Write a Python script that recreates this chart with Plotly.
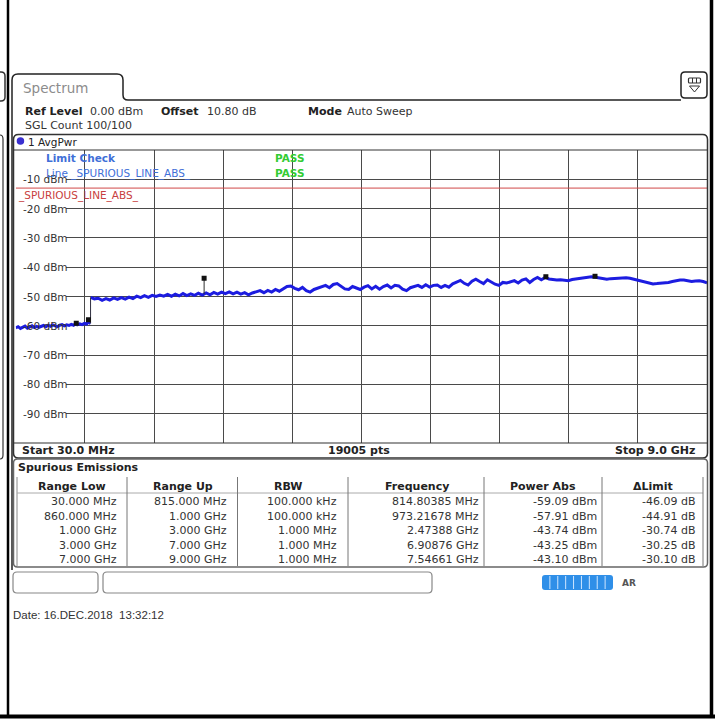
import numpy as np
import plotly.graph_objects as go

W, H = 715, 726

# ---------------- data ----------------
seg1_freq_ghz = [0.03, 0.06, 0.09, 0.12, 0.15, 0.18, 0.21, 0.24, 0.27, 0.30, 0.33, 0.36,
                 0.39, 0.42, 0.45, 0.48, 0.51, 0.54, 0.57, 0.60, 0.63, 0.66, 0.69, 0.72,
                 0.75, 0.78, 0.80, 0.815, 0.83, 0.86, 0.89, 0.92, 0.95, 0.973, 0.99, 1.00]
seg1_dbm = [-60.7, -60.3, -60.9, -60.5, -60.1, -60.8, -60.4, -60.0, -60.6, -60.2, -60.5, -60.1,
            -59.9, -60.3, -59.8, -60.2, -59.7, -60.0, -60.3, -59.8, -59.6, -60.0, -59.7, -59.9,
            -59.5, -59.8, -59.4, -59.09, -59.6, -59.3, -59.6, -59.2, -59.4, -58.0, -59.1, -59.2]

SEG2_START_GHZ, SEG2_STOP_GHZ = 1.0, 9.0
seg2_dbm = [
    -50.3, -50.8, -50.6, -51.3, -50.7, -51.2, -50.5, -51.0, -50.4, -50.9,
    -50.2, -50.7, -49.9, -50.4, -49.7, -50.3, -49.6, -50.0, -49.5, -49.9,
    -49.3, -49.9, -49.2, -49.8, -49.0, -49.7, -49.1, -49.6, -48.9, -49.5,
    -48.8, -49.4, -48.6, -49.2, -48.5, -49.0, -48.4, -49.1, -48.5, -49.2,
    -48.7, -49.4, -48.8, -48.3, -48.0, -48.7, -47.9, -48.5, -47.6, -48.2,
    -47.3, -46.6, -46.4, -47.2, -47.7, -46.9, -48.0, -48.5, -47.6, -47.2,
    -46.8, -46.2, -47.0, -45.9, -45.6, -46.6, -47.4, -47.6, -46.6, -47.1,
    -47.6, -46.8, -46.3, -47.4, -46.5, -47.5, -46.6, -46.1, -47.1, -46.2,
    -46.4, -47.5, -48.0, -47.0, -46.6, -46.2, -46.9, -46.0, -46.8, -46.2,
    -46.1, -46.9, -46.2, -46.8, -45.7, -45.2, -44.5, -45.5, -46.1, -44.8,
    -44.1, -44.9, -45.6, -44.3, -45.1, -45.8, -46.2, -45.2, -45.4, -45.0,
    -44.6, -45.4, -44.4, -44.0, -45.2, -44.2, -43.5, -44.3, -43.5, -44.0,
    -44.2, -44.4, -44.3, -44.5, -44.6, -44.2, -44.0, -43.8, -43.7, -43.5,
    -43.3, -43.4, -43.7, -44.0, -44.1, -43.9, -43.8, -43.7, -43.6, -43.6,
    -43.8, -44.1, -44.4, -44.8, -45.1, -45.5, -45.7, -45.6, -45.5, -45.4,
    -45.2, -44.9, -44.6, -44.4, -44.4, -44.6, -44.9, -44.7, -44.6, -44.9,
    -45.3,
]

marker_freq_ghz = [0.81480385, 0.97321678, 2.47388, 6.90876, 7.54661]
marker_dbm = [-59.09, -57.91, -43.74, -43.25, -43.10]
limit_dbm = -13.0

start_ghz, stop_ghz = 0.03, 9.0
ref_level_dbm, bottom_dbm = 0, -100
y_tick_values = [-10, -20, -30, -40, -50, -60, -70, -80, -90]
n_points = 19005

range_low = ["30.000 MHz", "860.000 MHz", "1.000 GHz", "3.000 GHz", "7.000 GHz"]
range_up = ["815.000 MHz", "1.000 GHz", "3.000 GHz", "7.000 GHz", "9.000 GHz"]
rbw = ["100.000 kHz", "100.000 kHz", "1.000 MHz", "1.000 MHz", "1.000 MHz"]
table_headers = ["Range Low", "Range Up", "RBW", "Frequency", "Power Abs", "\u0394Limit"]

# ---------------- helpers ----------------
def px(x):
    return x / W

def py(y):
    return 1 - y / H

def rr_path(x0, y0, x1, y1, r):
    p = lambda x, y: f"{px(x)},{py(y)}"
    return (f"M {p(x0 + r, y0)} L {p(x1 - r, y0)} Q {p(x1, y0)} {p(x1, y0 + r)} "
            f"L {p(x1, y1 - r)} Q {p(x1, y1)} {p(x1 - r, y1)} L {p(x0 + r, y1)} "
            f"Q {p(x0, y1)} {p(x0, y1 - r)} L {p(x0, y0 + r)} Q {p(x0, y0)} {p(x0 + r, y0)} Z")

def poly_path(pts):
    return "M " + " L ".join(f"{px(x)},{py(y)}" for x, y in pts)

FONT = "DejaVu Sans"
shapes = []
annotations = []

def txt(x, y, s, size=11, color="#222", bold=False, anchor="left", family=FONT, yref_data=False):
    annotations.append(dict(
        x=px(x), y=(y if yref_data else py(y)), xref="paper", yref=("y" if yref_data else "paper"),
        text=(f"<b>{s}</b>" if bold else s), showarrow=False,
        xanchor=anchor, yanchor="middle",
        font=dict(family=family, size=size, color=color)))

def line(x0, y0, x1, y1, color="#333", width=1):
    shapes.append(dict(type="line", xref="paper", yref="paper",
                       x0=px(x0), y0=py(y0), x1=px(x1), y1=py(y1),
                       line=dict(color=color, width=width), layer="above"))

def path(d, color="#333", width=1, fill=None):
    shapes.append(dict(type="path", xref="paper", yref="paper", path=d,
                       line=dict(color=color, width=width),
                       fillcolor=fill if fill else "rgba(0,0,0,0)", layer="above"))

# ---------------- traces ----------------
seg2_freq_ghz = np.linspace(SEG2_START_GHZ, SEG2_STOP_GHZ, len(seg2_dbm))
all_f = np.concatenate([seg1_freq_ghz, seg2_freq_ghz])
all_p = np.concatenate([seg1_dbm, seg2_dbm])

fig = go.Figure()
TRACE_BLUE = "#1c1ce0"

fig.add_trace(go.Scatter(x=[start_ghz, stop_ghz], y=[limit_dbm, limit_dbm], mode="lines",
                         line=dict(color="#d04848", width=1), hoverinfo="skip"))
fig.add_trace(go.Scatter(x=seg1_freq_ghz, y=seg1_dbm, mode="lines",
                         line=dict(color=TRACE_BLUE, width=3)))
fig.add_trace(go.Scatter(x=seg2_freq_ghz, y=seg2_dbm, mode="lines",
                         line=dict(color=TRACE_BLUE, width=3)))
# jump between the two sub-ranges
fig.add_trace(go.Scatter(x=[seg1_freq_ghz[-1], SEG2_START_GHZ], y=[seg1_dbm[-1], seg2_dbm[0]],
                         mode="lines", line=dict(color="#303040", width=1)))
# marker stems
stem_x, stem_y = [], []
for f, p in zip(marker_freq_ghz, marker_dbm):
    base = float(np.interp(f, all_f, all_p))
    stem_x += [f, f, None]
    stem_y += [p, base, None]
fig.add_trace(go.Scatter(x=stem_x, y=stem_y, mode="lines",
                         line=dict(color="#303030", width=1)))
fig.add_trace(go.Scatter(x=marker_freq_ghz, y=marker_dbm, mode="markers",
                         marker=dict(symbol="square", size=5, color="#111")))

# ---------------- axes ----------------
PLOT_L, PLOT_R, PLOT_T, PLOT_B = 15.8, 707.0, 150.0, 443.0
span = stop_ghz - start_ghz

fig.update_layout(
    width=W, height=H, margin=dict(l=0, r=0, t=0, b=0),
    paper_bgcolor="white", plot_bgcolor="rgba(0,0,0,0)", showlegend=False,
    xaxis=dict(domain=[px(PLOT_L), px(PLOT_R)], range=[start_ghz, stop_ghz],
               tick0=start_ghz, dtick=span / 10, showgrid=True, gridcolor="#4a4a4a",
               gridwidth=1, showticklabels=False, zeroline=False, showline=False, ticks=""),
    yaxis=dict(domain=[py(PLOT_B), py(PLOT_T)], range=[bottom_dbm, ref_level_dbm],
               tick0=0, dtick=10, showgrid=True, gridcolor="#4a4a4a", gridwidth=1,
               showticklabels=False, zeroline=False, showline=False, ticks=""),
)

# white boxes behind y labels (hide grid there, below traces)
label_right_ghz = start_ghz + (66 - PLOT_L) / (PLOT_R - PLOT_L) * span
for v in y_tick_values:
    shapes.append(dict(type="rect", xref="x", yref="y", x0=start_ghz, x1=label_right_ghz,
                       y0=v - 1.7, y1=v + 1.7, fillcolor="white", line=dict(width=0),
                       layer="between"))
    txt(20.5, v, f"{v} dBm", size=10.5, color="#333", yref_data=True)

# ---------------- frame & decorations ----------------
line(8, 0, 8, 716, color="#000", width=2.5)
line(0, 716.5, 715, 716.5, color="#000", width=4)
line(711.5, 0, 711.5, 716, color="#000", width=3.5)
path(f"M {px(0)},{py(72)} L {px(1)},{py(72)} Q {px(5)},{py(72)} {px(5)},{py(76)} "
     f"L {px(5)},{py(97)} Q {px(5)},{py(101)} {px(1)},{py(101)} L {px(0)},{py(101)}",
     color="#333", width=1.5)
path(f"M {px(0)},{py(135)} Q {px(3)},{py(135)} {px(3)},{py(139)} L {px(3)},{py(455)} "
     f"Q {px(3)},{py(459)} {px(0)},{py(459)}", color="#333", width=1.2)

# Spectrum tab + window
path(f"M {px(12)},{py(570)} L {px(12)},{py(80)} Q {px(12)},{py(74)} {px(18)},{py(74)} "
     f"L {px(117)},{py(74)} Q {px(123)},{py(74)} {px(123)},{py(80)} L {px(123)},{py(95)} "
     f"Q {px(123)},{py(100)} {px(128)},{py(100)} L {px(681)},{py(100)}", color="#222", width=1.5)
txt(21, 87.5, "Spectrum", size=13.5, color="#8c8c8c")

# icon top right
path(rr_path(681, 72, 707, 98, 4), color="#222", width=1.5)
path(rr_path(688.5, 78, 700.5, 83, 1), color="#333", width=1.2)
line(692.5, 78, 692.5, 83, color="#333", width=1)
line(696.5, 78, 696.5, 83, color="#333", width=1)
path(poly_path([(689.5, 86), (699.5, 86), (694.5, 92)]) + " Z", color="#333", width=1)

# header
txt(23, 111, "Ref Level", bold=True)
txt(88, 111, "0.00 dBm", color="#333")
txt(159, 111, "Offset", bold=True)
txt(205, 111, "10.80 dB", color="#333")
txt(306, 111, "Mode", bold=True)
txt(345, 111, "Auto Sweep", color="#333")
txt(23, 125.5, "SGL Count 100/100", color="#333")

# diagram box
path(rr_path(13.5, 134.5, 707.5, 458, 5), color="#333", width=1.5)
line(13.5, PLOT_T, 707.5, PLOT_T, color="#333", width=1)
line(13.5, PLOT_B, 707.5, PLOT_B, color="#333", width=1.2)
shapes.append(dict(type="circle", xref="paper", yref="paper",
                   x0=px(16.7), x1=px(24.2), y0=py(137.3), y1=py(144.8),
                   fillcolor="#3a2fd0", line=dict(width=0), layer="above"))
txt(26, 141.5, "1 AvgPwr", size=10.5, color="#222")

txt(44, 158, "Limit Check", size=10.5, color="#3f6fd8", bold=True)
txt(273, 158, "PASS", size=10.5, color="#33cc33", bold=True)
txt(44, 173, "Line _SPURIOUS_LINE_ABS_", size=10.5, color="#3f6fd8")
txt(273, 173, "PASS", size=10.5, color="#33cc33", bold=True)
txt(16, 195, "_SPURIOUS_LINE_ABS_", size=10.5, color="#c84040")

txt(20, 450.5, "Start 30.0 MHz", bold=True)
txt(359, 450.5, f"{n_points} pts", bold=True, anchor="center")
txt(697, 450.5, "Stop 9.0 GHz", bold=True, anchor="right")

# table
path(rr_path(13.5, 459, 707.5, 567, 4), color="#666", width=1.5)
txt(16, 467.5, "Spurious Emissions", bold=True)
line(17, 477, 17, 566, color="#888", width=1)
line(17, 493, 703, 493, color="#aaa", width=1)
for sx in [127, 237.5, 348, 484, 602, 703]:
    line(sx, 477, sx, 566, color="#777", width=1)
for hx, h in zip([72, 183, 288, 417, 543, 653], table_headers):
    txt(hx, 486, h, bold=True, anchor="center")

row_y = [501.5, 516, 530.5, 545, 559.5]
def fmt_freq(f):
    return f"{f * 1000:.5f} MHz" if f < 1 else f"{f:.5f} GHz"
for i, ry in enumerate(row_y):
    txt(119, ry, range_low[i], color="#333", anchor="right")
    txt(229, ry, range_up[i], color="#333", anchor="right")
    txt(339, ry, rbw[i], color="#333", anchor="right")
    txt(481, ry, fmt_freq(marker_freq_ghz[i]), color="#333", anchor="right")
    txt(599, ry, f"{marker_dbm[i]:.2f} dBm", color="#333", anchor="right")
    txt(698, ry, f"{marker_dbm[i] - limit_dbm:.2f} dB", color="#333", anchor="right")

# status bar
path(rr_path(13, 572, 98, 593, 4), color="#888", width=1.2)
path(rr_path(103, 572, 432, 593, 4), color="#888", width=1.2)
path(rr_path(542, 575, 613, 590, 3), color="#2f8fe8", width=0, fill="#2f8fe8")
for k in range(1, 9):
    sx = 542 + k * 71 / 9
    line(sx, 576, sx, 589, color="#cfe6ff", width=1)
txt(620, 583, "AR", size=9, color="#555", bold=True)

txt(11, 615, "Date: 16.DEC.2018\u00a0\u00a013:32:12", size=11.5, color="#333",
    family="Liberation Sans")

fig.update_layout(shapes=shapes, annotations=annotations)
fig.write_html("out.html", config={"displayModeBar": False},
               post_script="document.body.style.margin='0';document.body.style.overflow='hidden';")
